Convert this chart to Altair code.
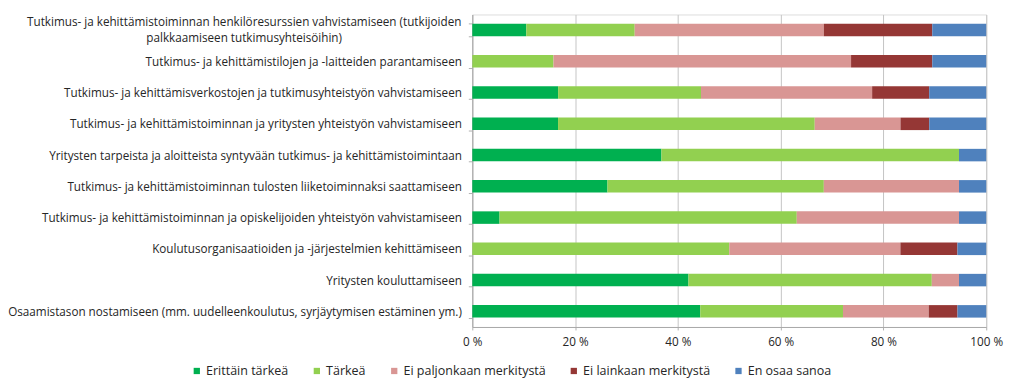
import altair as alt
import pandas as pd

categories = [
    "Tutkimus- ja kehittämistoiminnan henkilöresurssien vahvistamiseen (tutkijoiden palkkaamiseen tutkimusyhteisöihin)",
    "Tutkimus- ja kehittämistilojen ja -laitteiden parantamiseen",
    "Tutkimus- ja kehittämisverkostojen ja tutkimusyhteistyön vahvistamiseen",
    "Tutkimus- ja kehittämistoiminnan ja yritysten yhteistyön vahvistamiseen",
    "Yritysten tarpeista ja aloitteista syntyvään tutkimus- ja kehittämistoimintaan",
    "Tutkimus- ja kehittämistoiminnan tulosten liiketoiminnaksi saattamiseen",
    "Tutkimus- ja kehittämistoiminnan ja opiskelijoiden yhteistyön vahvistamiseen",
    "Koulutusorganisaatioiden ja -järjestelmien kehittämiseen",
    "Yritysten kouluttamiseen",
    "Osaamistason nostamiseen (mm. uudelleenkoulutus, syrjäytymisen estäminen ym.)",
]
first_line1 = "Tutkimus- ja kehittämistoiminnan henkilöresurssien vahvistamiseen (tutkijoiden"
first_line2 = "palkkaamiseen tutkimusyhteisöihin)"

series = ["Erittäin tärkeä", "Tärkeä", "Ei paljonkaan merkitystä",
          "Ei lainkaan merkitystä", "En osaa sanoa"]
colors = ["#00B050", "#92D050", "#D99694", "#953735", "#4F81BD"]

erittain = [10.5, 0.0, 16.7, 16.7, 36.8, 26.3, 5.3, 0.0, 42.1, 44.4]
tarkea = [21.1, 15.8, 27.8, 50.0, 57.9, 42.1, 57.9, 50.0, 47.4, 27.8]
ei_paljon = [36.8, 57.9, 33.3, 16.7, 0.0, 26.3, 31.6, 33.3, 5.3, 16.7]
ei_lainkaan = [21.1, 15.8, 11.1, 5.6, 0.0, 0.0, 0.0, 11.1, 0.0, 5.6]
en_osaa = [10.5, 10.5, 11.1, 11.1, 5.3, 5.3, 5.3, 5.6, 5.3, 5.6]

x_ticks = [0, 0.2, 0.4, 0.6, 0.8, 1.0]

rows = []
for s_i, (name, vals) in enumerate(zip(series, [erittain, tarkea, ei_paljon, ei_lainkaan, en_osaa])):
    for c, v in zip(categories, vals):
        rows.append({"category": c, "series": name, "order": s_i, "value": v})
df = pd.DataFrame(rows)

FONT = "Open Sans"
FS = 11.8
LFS = 12.6
TXT = "#262626"

y_enc = alt.Y(
    "category:N",
    sort=categories,
    title=None,
    scale=alt.Scale(paddingInner=0.6, paddingOuter=0.3),
    axis=alt.Axis(
        labelExpr=f"datum.value == '{categories[0]}' ? '' : datum.label",
        labelLimit=600,
        labelFont=FONT,
        labelFontSize=FS,
        labelColor=TXT,
        labelPadding=7,
        tickSize=4,
        tickBand="extent",
        tickColor="#b0b0b0",
        domainColor="#a8a8a8",
        grid=False,
    ),
)

bars = alt.Chart(df).mark_bar().encode(
    x=alt.X(
        "value:Q",
        stack="normalize",
        title=None,
        scale=alt.Scale(domain=[0, 1], nice=False),
        axis=alt.Axis(
            values=x_ticks,
            labelExpr="round(datum.value*100) + ' %'",
            labelFont=FONT,
            labelFontSize=FS,
            labelColor=TXT,
            labelPadding=7,
            tickSize=3,
            tickColor="#b0b0b0",
            domainColor="#a8a8a8",
            grid=True,
            gridColor="#c4c4c4",
            labelFlush=False,
        ),
    ),
    y=y_enc,
    color=alt.Color(
        "series:N",
        scale=alt.Scale(domain=series, range=colors),
        sort=series,
        legend=alt.Legend(
            title=None,
            orient="none",
            direction="horizontal",
            legendX=-284,
            legendY=353,
            symbolType="square",
            symbolSize=40,
            symbolStrokeWidth=0,
            labelFont=FONT,
            labelFontSize=LFS,
            labelColor=TXT,
            labelOffset=3,
            columnPadding=22,
            columns=5,
        ),
    ),
    order=alt.Order("order:Q"),
)

first_df = pd.DataFrame({"category": [categories[0]], "l1": [first_line1], "l2": [first_line2]})
line1 = alt.Chart(first_df).mark_text(
    font=FONT, fontSize=FS, color=TXT, align="right", baseline="middle", yOffset=-8
).encode(
    y=alt.Y("category:N", sort=categories),
    x=alt.value(-11),
    text="l1:N",
)
line2 = alt.Chart(first_df).mark_text(
    font=FONT, fontSize=FS, color=TXT, align="center", baseline="middle", yOffset=8
).encode(
    y=alt.Y("category:N", sort=categories),
    x=alt.value(-230),
    text="l2:N",
)

chart = alt.layer(bars, line1, line2).properties(
    width=518,
    height=315,
    padding={"left": 468, "top": 5, "right": 29, "bottom": 61},
    autosize=alt.AutoSizeParams(type="none"),
).configure_view(stroke=None).configure(background="white")

chart.save("out.html", embed_options={"renderer": "svg", "actions": False})
